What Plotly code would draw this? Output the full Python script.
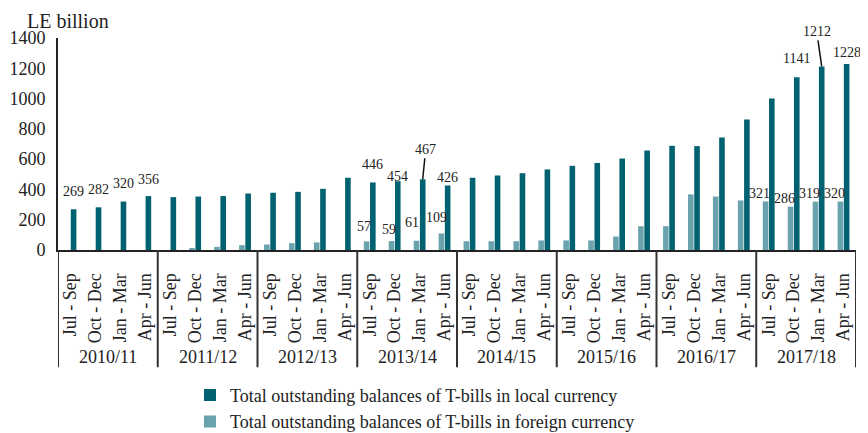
import plotly.graph_objects as go

years = ["2010/11", "2011/12", "2012/13", "2013/14", "2014/15", "2015/16", "2016/17", "2017/18"]
quarters = ["Jul - Sep", "Oct - Dec", "Jan - Mar", "Apr - Jun"]

local_ccy = [269, 282, 320, 356,
             349, 353, 356, 373,
             378, 384, 404, 477,
             446, 454, 467, 426,
             477, 492, 507, 532,
             556, 575, 604, 657,
             688, 686, 743, 862,
             1000, 1141, 1212, 1228]

foreign_ccy = [0, 0, 0, 0,
               0, 12, 21, 32,
               36, 45, 50, 0,
               57, 59, 61, 109,
               58, 58, 58, 63,
               63, 63, 89, 157,
               157, 367, 353, 327,
               321, 286, 319, 320]

local_name = "Total outstanding balances of T-bills in local currency"
foreign_name = "Total outstanding balances of T-bills in foreign currency"

# labelled points: (index, yshift px, arrow offset or None)
local_labels = [(0, 18, None), (1, 18, None), (2, 18, None), (3, 17, None),
                (12, 18, None), (13, 5, None), (14, 0, (3, -30)), (15, 8, None),
                (29, 19, None), (30, 0, (-5, -35)), (31, 12, None)]
# (index, xshift px, yshift px)
foreign_labels = [(12, -3, 15), (13, -3, 12), (14, -4, 18), (15, -5, 16),
                  (28, -6, 8), (29, -6, 8), (30, -6, 8), (31, -6, 8)]

DARK = "#006170"
LIGHT = "#6aa3ad"
FONT = "Liberation Serif, Times New Roman, serif"
TXT = "#222222"

n = len(local_ccy)
xs = list(range(n))
ticktext = [q for _ in years for q in quarters]

fig = go.Figure()
fig.add_trace(go.Bar(x=xs, y=foreign_ccy, name=foreign_name, marker_color=LIGHT,
                     marker_line_width=0, legendrank=2))
fig.add_trace(go.Bar(x=xs, y=local_ccy, name=local_name, marker_color=DARK,
                     marker_line_width=0, legendrank=1))

OFF_F = -0.125
OFF_L = 0.125
lab_font = dict(size=14, color=TXT, family=FONT)
ann = []
for i, yshift, arrow in local_labels:
    if arrow is None:
        ann.append(dict(x=i + OFF_L, y=local_ccy[i], text=str(local_ccy[i]), showarrow=False,
                        yanchor="middle", yshift=yshift, font=lab_font))
    else:
        ann.append(dict(x=i + OFF_L, y=local_ccy[i], text=str(local_ccy[i]), showarrow=True,
                        arrowhead=0, arrowwidth=1.5, arrowcolor="#111111", standoff=0,
                        ax=arrow[0], ay=arrow[1], font=lab_font))
for i, xshift, yshift in foreign_labels:
    ann.append(dict(x=i + OFF_F, y=foreign_ccy[i], text=str(foreign_ccy[i]), showarrow=False,
                    yanchor="middle", xshift=xshift, yshift=yshift, font=lab_font))

# year labels under the quarter labels
for k, yr in enumerate(years):
    ann.append(dict(x=4 * k + 1.5, y=-0.506, xref="x", yref="paper", text=yr, showarrow=False,
                    yanchor="middle", font=dict(size=18, color=TXT, family=FONT)))

ann.append(dict(x=-0.041, y=1.080, xref="paper", yref="paper", text="LE billion", showarrow=False,
                xanchor="left", yanchor="middle", font=dict(size=20, color=TXT, family=FONT)))

shapes = []
for k in range(len(years) + 1):
    shapes.append(dict(type="line", xref="x", yref="paper", x0=4 * k - 0.5, x1=4 * k - 0.5,
                       y0=0, y1=-0.553, line=dict(color="#333333", width=2)))

# page body has an 8px margin, so the figure is offset by 8px; margins compensate
fig.update_layout(
    width=868, height=433,
    margin=dict(l=50, r=20, t=30, b=190.5, autoexpand=False),
    paper_bgcolor="white", plot_bgcolor="white",
    barmode="group", bargap=0.5, bargroupgap=0.1,
    font=dict(family=FONT, size=18, color=TXT),
    showlegend=True,
    legend=dict(x=0.1654, y=-0.598, xanchor="left", yanchor="top",
                font=dict(size=18, family=FONT, color=TXT), bgcolor="rgba(0,0,0,0)",
                itemclick=False, itemdoubleclick=False),
    annotations=ann,
    shapes=shapes,
)
fig.update_xaxes(range=[-0.5, n - 0.5], tickmode="array", tickvals=xs, ticktext=ticktext,
                 tickangle=-90, ticks="", showline=True, linecolor="#222222", linewidth=2,
                 showgrid=False, zeroline=False, ticklabelstandoff=14, automargin=False,
                 tickfont=dict(size=18, family=FONT, color=TXT))
fig.update_yaxes(range=[0, 1400], dtick=200, showline=True, linecolor="#222222", linewidth=2,
                 showgrid=False, zeroline=False, ticks="", ticklabelstandoff=7, automargin=False,
                 tickfont=dict(size=18, family=FONT, color=TXT))

fig.write_html("out.html")
